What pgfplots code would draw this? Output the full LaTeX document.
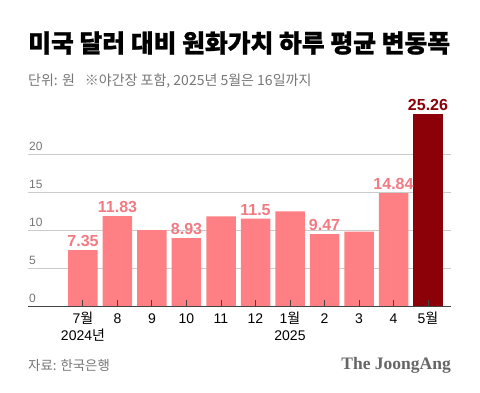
\documentclass[border=0pt]{standalone}
\usepackage{pgfplots}
\pgfplotsset{compat=1.18}
\usepackage{fontspec}
\setmainfont{Liberation Sans}
\newfontfamily\kr{Noto Sans CJK KR}
\newfontfamily\serifbrand{Liberation Serif}
\definecolor{barpink}{HTML}{FF8084}
\definecolor{labpink}{HTML}{F27A82}
\definecolor{darkred}{HTML}{8C0008}
\definecolor{txtgray}{HTML}{777777}
\definecolor{gridgray}{HTML}{CCCCCC}
\definecolor{axisdark}{HTML}{444444}
\begin{document}
\begin{tikzpicture}[x=1pt,y=1pt]
\fill[white] (0,0) rectangle (480,392);
\useasboundingbox (0,0) rectangle (480,392);
\node[anchor=west, inner sep=0] at (28,349) {\kr\bfseries\addfontfeature{FakeBold=1}\fontsize{24.8}{28}\selectfont 미국 달러 대비 원화가치 하루 평균 변동폭};
\node[anchor=west, inner sep=0, text=txtgray] at (28,311) {\kr\fontsize{14}{16}\selectfont 단위: 원\hspace{10pt}※야간장 포함, 2025년 5월은 16일까지};
\node[anchor=west, inner sep=0, text=txtgray] at (28,27) {\kr\fontsize{13.4}{15}\selectfont 자료: 한국은행};
\node[anchor=east, inner sep=0, text=black!60] at (451,27) {\serifbrand\bfseries\fontsize{17.5}{20}\selectfont The JoongAng};
\begin{axis}[
  at={(28pt,86pt)}, anchor=south west, scale only axis,
  width=422.5pt, height=197.6pt,
  xmin=-1.594, xmax=10.652, ymin=0, ymax=26,
  ybar, bar width=29.5pt, bar shift=0pt,
  clip=false,
  axis on top,
  separate axis lines,
  axis x line*=bottom, axis y line*=left,
  y axis line style={draw=none},
  x axis line style={draw=axisdark, line width=1pt},
  xtick={0,...,10},
  xticklabels={7{\kr 월},8,9,10,11,12,1{\kr 월},2,3,4,5{\kr 월}},
  tick align=inside, major tick length=6pt,
  xtick style={draw=axisdark, line width=1pt},
  ytick={0,5,10,15,20}, ytick style={draw=none},
  yticklabel style={anchor=base west, inner sep=0pt, xshift=1pt, yshift=4pt, font=\fontsize{12}{12}\selectfont, text=txtgray},
  xticklabel style={anchor=base, inner sep=0pt, yshift=-17.5pt, font=\fontsize{14}{14}\selectfont},
  /pgf/number format/assume math mode=true,
]
\foreach \g in {5,10,15,20} {
  \edef\tmp{\noexpand\draw[gridgray, line width=0.8pt] (axis cs:-1.594,\g) -- (axis cs:10.652,\g);}
  \tmp
}
\addplot[fill=barpink, draw=none] coordinates {(2,10.0) (4,11.8) (6,12.46) (8,9.78)};
\addplot[fill=barpink, draw=none, nodes near coords, point meta=explicit symbolic,
  every node near coord/.style={anchor=south, inner sep=0pt, yshift=3pt, font=\bfseries\fontsize{16}{16}\selectfont, text=labpink}]
  coordinates {(0,7.35) [7.35] (1,11.83) [11.83] (3,8.93) [8.93] (5,11.5) [11.5] (7,9.47) [9.47] (9,14.84) [14.84]};
\addplot[fill=darkred, draw=none, nodes near coords, point meta=explicit symbolic,
  every node near coord/.style={anchor=south, inner sep=0pt, yshift=3pt, font=\bfseries\fontsize{16}{16}\selectfont, text=darkred}]
  coordinates {(10,25.26) [25.26]};
\node[anchor=base, inner sep=0pt, font=\fontsize{14}{14}\selectfont] at (axis cs:0,0) [yshift=-34.5pt] {2024{\kr 년}};
\node[anchor=base, inner sep=0pt, font=\fontsize{14}{14}\selectfont] at (axis cs:6,0) [yshift=-34.5pt] {2025};
\end{axis}
\end{tikzpicture}
\end{document}
